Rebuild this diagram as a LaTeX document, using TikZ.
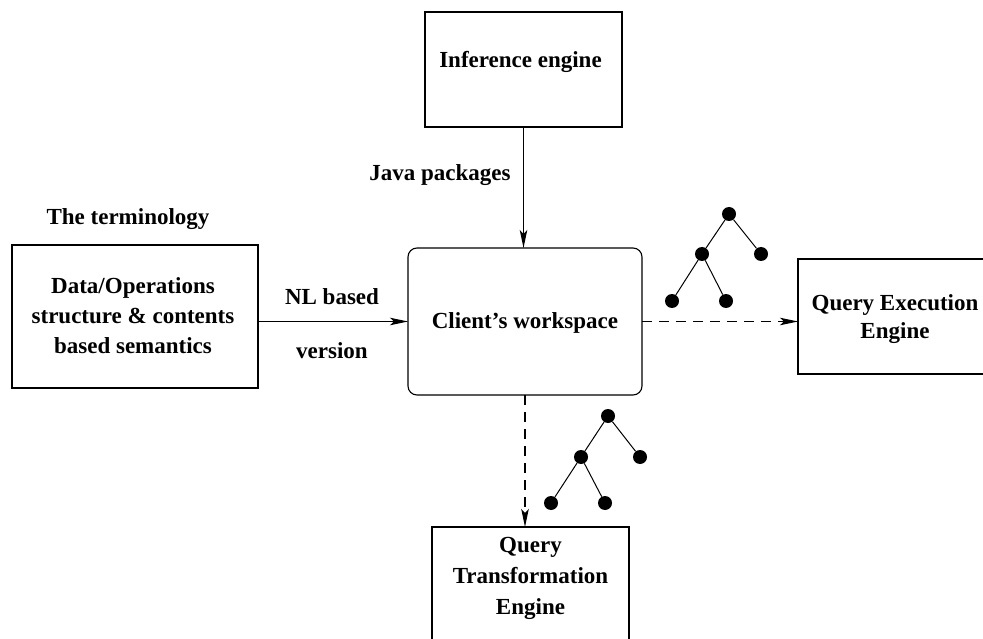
\documentclass[tikz,border=0pt]{standalone}
\usepackage{fontspec}
\setmainfont{Liberation Serif}
\usetikzlibrary{arrows.meta}
\begin{document}
\begin{tikzpicture}[x=1pt,y=-1pt,
  box/.style={draw,line width=1.1pt,inner sep=0pt,outer sep=0pt},
  txt/.style={font=\bfseries\fontsize{23}{30}\selectfont,inner sep=0pt,outer sep=0pt},
  conn/.style={line width=1.2pt,-{Stealth[length=18pt,width=7.5pt,inset=4pt]}},
  dconn/.style={conn,dash pattern=on 10pt off 7pt},
  dot/.style={circle,fill=black,minimum size=14pt,inner sep=0pt},
  edge/.style={line width=1pt}]
\clip (0,0) rectangle (983,639);
\fill[white] (0,0) rectangle (983,639);
% boxes
\node[box,minimum width=197pt,minimum height=115pt] (inf) at (523.5,69.5) {};
\node[box,rounded corners=9pt,minimum width=234pt,minimum height=147pt] (client) at (525,321.5) {};
\node[box,minimum width=246pt,minimum height=143pt] (term) at (135,316.5) {};
\node[box,minimum width=194pt,minimum height=115pt] (qe) at (895,316.5) {};
\node[box,minimum width=197pt,minimum height=115pt] (qt) at (530.5,584.5) {};
% texts
\node[txt,anchor=base] (inftxt) at (520.5,68) {Inference engine};
\node[txt,anchor=base] (clienttxt) at (525,328) {Client’s workspace};
\node[txt,align=center] (termtxt) at (133,315.5) {Data/Operations\\structure \& contents\\based semantics};
\node[txt,align=center,font=\bfseries\fontsize{23}{28}\selectfont] (qetxt) at (895,319.5) {Query Execution\\Engine};
\node[txt,align=center,font=\bfseries\fontsize{23}{31}\selectfont] (qttxt) at (530.5,578.5) {Query\\Transformation\\Engine};
\node[txt,anchor=base] (java) at (440,181) {Java packages};
\node[txt,anchor=base] (termlbl) at (128,225) {The terminology};
\node[txt,anchor=base] (nl) at (332,305) {NL based};
\node[txt,anchor=base] (ver) at (332,358) {version};
% connectors
\draw[conn] (inf.south) -- (inf.south |- client.north);
\draw[conn] (client.west -| term.east) -- (client.west);
\draw[dconn] (client.east) -- (qe.west |- client.east);
\draw[dconn] (client.south) -- (client.south |- qt.north);
% tree 1
\node[dot] (a1) at (729,214) {};
\node[dot] (b1) at (702,254) {};
\node[dot] (c1) at (761,254) {};
\node[dot] (d1) at (672,301) {};
\node[dot] (e1) at (726,301) {};
\draw[edge] (a1) -- (b1) (a1) -- (c1) (b1) -- (d1) (b1) -- (e1);
% tree 2
\node[dot] (a2) at (608,416) {};
\node[dot] (b2) at (581,457) {};
\node[dot] (c2) at (640,457) {};
\node[dot] (d2) at (551,503) {};
\node[dot] (e2) at (605,503) {};
\draw[edge] (a2) -- (b2) (a2) -- (c2) (b2) -- (d2) (b2) -- (e2);
\end{tikzpicture}
\end{document}
